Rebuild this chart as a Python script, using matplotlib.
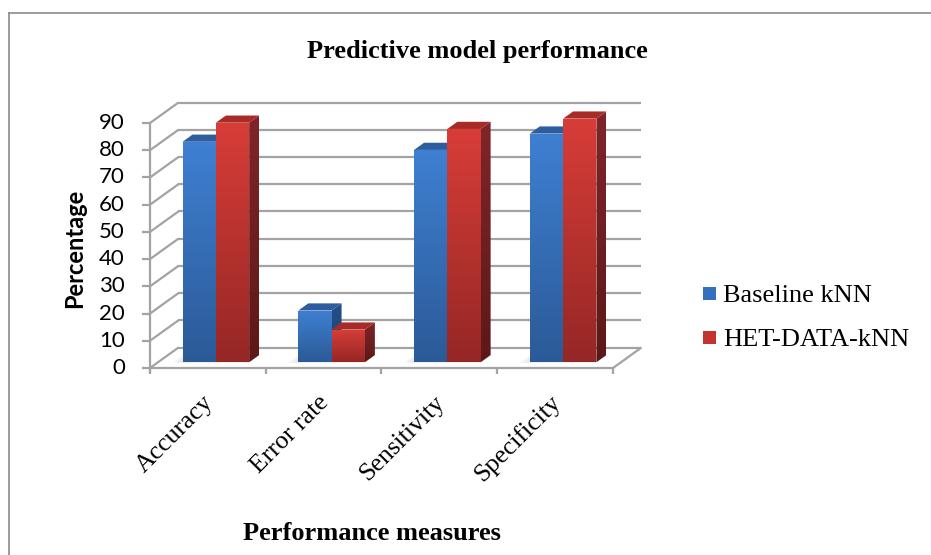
import numpy as np
import matplotlib
matplotlib.use("Agg")
import matplotlib.pyplot as plt
from matplotlib.patches import Polygon, Rectangle
from matplotlib.colors import LinearSegmentedColormap
from matplotlib.lines import Line2D

# ---------------- data ----------------
categories = ['Accuracy', 'Error rate', 'Sensitivity', 'Specificity']
baseline_knn = [81, 19, 78, 84]
het_data_knn = [88, 12, 85.7, 89.5]
series_names = ['Baseline kNN', 'HET-DATA-kNN']
y_ticks = [0, 10, 20, 30, 40, 50, 60, 70, 80, 90]

# ---------------- styling ----------------
W, H = 931, 555
GRID = '#A3A3A3'
blue = dict(front_top='#3F80D2', front_bot='#2B5A97', top='#2C5E9F',
            side_top='#254F88', side_bot='#1E4172', legend='#3470BD')
red = dict(front_top='#D83D38', front_bot='#952725', top='#A82B28',
           side_top='#80252A', side_bot='#5C1818', legend='#C5332F')
styles = [blue, red]

fig = plt.figure(figsize=(W / 100, H / 100), dpi=100)
ax = fig.add_axes([0, 0, 1, 1])

# front frame geometry (pixels)
x0_px, x1_px = 150, 613
y0_px, y90_px = 368, 123
ppx = (x1_px - x0_px) / len(categories)
ppy = (y0_px - y90_px) / 90.0
XL = (-x0_px / ppx, (W - x0_px) / ppx)
YL = (-(H - y0_px) / ppy, y0_px / ppy)

DX = 28.5 / ppx   # depth offset in x units for z = 1
DY = 20.5 / ppy   # depth offset in y units for z = 1


def P(x, y, z):
    return (x + z * DX, y + z * DY)


def line(p, q, **kw):
    ax.add_line(Line2D([p[0], q[0]], [p[1], q[1]], color=GRID, lw=1.6,
                       solid_capstyle='butt', zorder=kw.pop('zorder', 1), **kw))


ymax = y_ticks[-1]
ncat = len(categories)
# back wall and side wall gridlines
for v in y_ticks:
    line(P(0, v, 1), P(ncat, v, 1))
    line(P(0, v, 0), P(0, v, 1))
# floor
line(P(0, 0, 0), P(ncat, 0, 0))
line(P(ncat, 0, 0), P(ncat, 0, 1))
# front vertical axis
line((0, -5 / ppy), P(0, ymax, 0))
# y tick marks
for v in y_ticks:
    line((-8 / ppx, v), (0, v))
    ax.text(-25 / ppx, v, str(v), ha='right', va='center', fontsize=16,
            family=['Lato', 'DejaVu Sans'], color='#000000')
# category ticks
for i in range(ncat + 1):
    line((i, 0), (i, -6 / ppy))


def grad_fill(pts, c_top, c_bot, z):
    poly = Polygon(pts, closed=True, facecolor='none', edgecolor='none')
    ax.add_patch(poly)
    xs = [p[0] for p in pts]
    ys = [p[1] for p in pts]
    cmap = LinearSegmentedColormap.from_list('g', [c_bot, c_top])
    grad = np.linspace(0, 1, 256).reshape(-1, 1)
    im = ax.imshow(grad, cmap=cmap, extent=[min(xs), max(xs), min(ys), max(ys)],
                   origin='lower', aspect='auto', zorder=z, interpolation='bilinear')
    im.set_clip_path(poly)


# bars
bar_w = 33.3 / ppx
zf, zb = 0.28, 0.63
series = [baseline_knn, het_data_knn]
for i in range(ncat):
    center = i + 0.5
    for s, vals in enumerate(series):
        st = styles[s]
        v = vals[i]
        xl = center - bar_w + s * bar_w
        xr = xl + bar_w
        zo = 3 + i * 10 + s * 3
        # soft floor shadow
        if s == 0:
            for k in range(4):
                sh = [P(xl - (4 + 2 * k) / ppx, 0, zf - 0.02), P(xl + 2 * bar_w, 0, zf - 0.02),
                      P(xl + 2 * bar_w, 0, zb), P(xl - (4 + 2 * k) / ppx, 0, zb)]
                ax.add_patch(Polygon(sh, closed=True, facecolor='#B0B0B0',
                                     edgecolor='none', alpha=0.08, zorder=2))
        # front face
        front = [P(xl, 0, zf), P(xr, 0, zf), P(xr, v, zf), P(xl, v, zf)]
        grad_fill(front, st['front_top'], st['front_bot'], zo)
        # side face
        side = [P(xr, 0, zf), P(xr, 0, zb), P(xr, v, zb), P(xr, v, zf)]
        grad_fill(side, st['side_top'], st['side_bot'], zo + 1)
        # top face
        top = [P(xl, v, zf), P(xr, v, zf), P(xr, v, zb), P(xl, v, zb)]
        ax.add_patch(Polygon(top, closed=True, facecolor=st['top'],
                             edgecolor='none', zorder=zo + 2))

# category labels
for i, c in enumerate(categories):
    ax.text(i + 0.5 + 2 / ppx, -31 / ppy, c, rotation=45, rotation_mode='anchor',
            ha='right', va='center', fontsize=18.5,
            family=['Liberation Serif', 'DejaVu Serif'])

ax.set_xlim(*XL)
ax.set_ylim(*YL)
ax.axis('off')

# axis titles and title
fig.text(477 / W, 1 - 58 / H, 'Predictive model performance', ha='center',
         va='baseline', fontsize=19, fontweight='bold',
         family=['Liberation Serif', 'DejaVu Serif'])
fig.text(372 / W, 1 - 540 / H, 'Performance measures', ha='center',
         va='baseline', fontsize=19, fontweight='bold',
         family=['Liberation Serif', 'DejaVu Serif'])
fig.text(75 / W, 1 - 248 / H, 'Percentage', ha='center', va='center',
         rotation=90, fontsize=17, fontweight='bold',
         family=['Lato', 'DejaVu Sans'])

# legend
leg_y = [302, 346]
for s, name in enumerate(series_names):
    fig.add_artist(Rectangle((703 / W, 1 - (leg_y[s] - 2) / H), 13 / W, 13 / H,
                             transform=fig.transFigure, facecolor=styles[s]['legend'],
                             edgecolor='none'))
    fig.text(723 / W, 1 - leg_y[s] / H, name, ha='left', va='baseline',
             fontsize=19, family=['Liberation Serif', 'DejaVu Serif'])

# outer border
fig.add_artist(Line2D([9 / W, 1], [1 - 13 / H, 1 - 13 / H], transform=fig.transFigure,
                      color='#8A8A8A', lw=1.2))
fig.add_artist(Line2D([9 / W, 9 / W], [1 - 13 / H, 0], transform=fig.transFigure,
                      color='#8A8A8A', lw=1.2))

fig.savefig('out.png', dpi=100)
